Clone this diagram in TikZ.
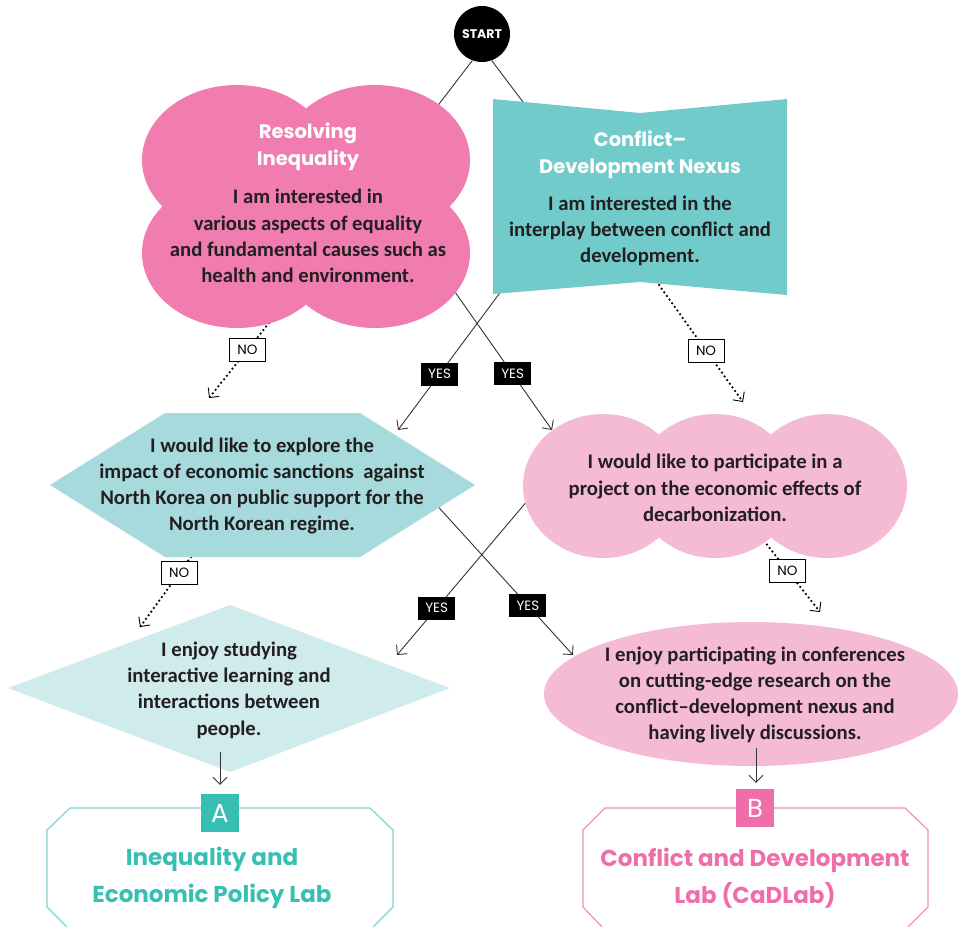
\documentclass[tikz,border=0pt]{standalone}
\usepackage{fontspec}
\setmainfont{Carlito}
\newfontfamily\headfont{Poppins}
\usetikzlibrary{arrows.meta}
\definecolor{pinkA}{HTML}{F17CB0}
\definecolor{tealB}{HTML}{72CBCB}
\definecolor{hexc}{HTML}{A6DADC}
\definecolor{pinkL}{HTML}{F5BBD5}
\definecolor{diac}{HTML}{D0EBEC}
\definecolor{tealA}{HTML}{38BFB4}
\definecolor{tealO}{HTML}{7DD3D5}
\definecolor{pinkB}{HTML}{EF6EA9}
\definecolor{pinkO}{HTML}{F38EBF}
\definecolor{txt}{HTML}{231F20}
\definecolor{linec}{HTML}{333333}
\begin{document}
\begin{tikzpicture}[x=1pt,y=-1pt,
  conn/.style={draw=linec, line width=0.9pt},
  arr/.style={conn, -{Straight Barb[length=7pt,width=14pt,line width=0.9pt]}},
  dotarr/.style={draw=black, line width=2.5pt, dash pattern=on 0pt off 4.5pt, line cap=round,
     -{Straight Barb[length=7pt,width=14pt,line width=0.9pt,line cap=butt]}},
  yesbox/.style={fill=black, text=white, font=\headfont\fontsize{13.5}{14}\selectfont,
     minimum width=37pt, minimum height=23pt, inner sep=0pt},
  nobox/.style={fill=white, draw=black, line width=1pt, text=black, solid,
     font=\headfont\fontsize{13.5}{14}\selectfont, minimum width=36pt, minimum height=23pt, inner sep=0pt},
  body/.style={align=center, text=txt, font=\bfseries\fontsize{20.7}{26.3}\selectfont, inner sep=0pt},
  title/.style={align=center, text=white, font=\headfont\bfseries\fontsize{19.5}{27}\selectfont, inner sep=0pt},
  lab/.style={align=center, font=\headfont\bfseries\fontsize{23}{37}\selectfont, inner sep=0pt},
  sq/.style={minimum size=38pt, inner sep=0pt, text=white, font=\headfont\fontsize{26}{26}\selectfont}
]
\useasboundingbox (0,0) rectangle (960,926);
\clip (0,0) rectangle (960,926);

% START
\node[circle, fill=black, minimum size=56pt, inner sep=0pt, text=white,
      font=\headfont\bfseries\fontsize{12.5}{13}\selectfont] (start) at (482,34) {START};

% named connector ends
\coordinate (c1t) at (436,108);
\coordinate (bnt) at (526,106);
\coordinate (c1b) at (455,292);
\coordinate (bnb) at (502,290);
\coordinate (hexin) at (398,430);
\coordinate (c2in) at (552,430);
\coordinate (hexb) at (432,500);
\coordinate (c2b) at (528,500);
\coordinate (diain) at (397,655);
\coordinate (ellin) at (573,655);
\coordinate (c1n) at (269,323);
\coordinate (hexn) at (209,398);
\coordinate (bnn) at (659,285);
\coordinate (c2n) at (743,402);
\coordinate (hexs) at (191,557);
\coordinate (dian) at (140,627);
\coordinate (c2s) at (764,541);
\coordinate (elln) at (820,612);

% connectors behind shapes
\draw[conn] (start.250) -- (c1t);
\draw[conn] (start.290) -- (bnt);
\draw[arr] (bnb) -- node[yesbox, pos=0.6] {YES} (hexin);
\draw[arr] (c1b) -- node[yesbox, pos=0.594] {YES} (c2in);
\draw[arr] (c2b) -- node[yesbox, pos=0.697] {YES} (diain);
\draw[arr] (hexb) -- node[yesbox, pos=0.68] {YES} (ellin);
\draw[dotarr] (c1n) -- node[nobox, pos=0.36] {NO} (hexn);
\draw[dotarr] (bnn) -- node[nobox, pos=0.56] {NO} (c2n);
\draw[dotarr] (hexs) -- node[nobox, pos=0.23] {NO} (dian);
\draw[dotarr] (c2s) -- node[nobox, pos=0.42] {NO} (elln);

% shapes
\fill[pinkA] (237,160) rectangle (375,253)
  (237,160) ellipse[x radius=95pt, y radius=75pt]
  (375,160) ellipse[x radius=95pt, y radius=75pt]
  (237,253) ellipse[x radius=95pt, y radius=75pt]
  (375,253) ellipse[x radius=95pt, y radius=75pt];
\fill[tealB] (493,99) -- (640,113) -- (787,99) -- (787,295) -- (640,282) -- (493,294) -- cycle;
\fill[hexc] (165,413) -- (360,413) -- (475,485) -- (360,557) -- (165,557) -- (50,485) -- cycle;
\fill[pinkL] (603,486) ellipse[x radius=80pt, y radius=72pt]
  (715,486) ellipse[x radius=80pt, y radius=72pt]
  (827,486) ellipse[x radius=80pt, y radius=72pt];
\fill[diac] (230,605) -- (450,688) -- (230,772) -- (8,688) -- cycle;
\fill[pinkL] (751,694) ellipse[x radius=207pt, y radius=72pt];

% texts
\node[title] (t1) at (308,147) {Resolving\\Inequality};
\node[body] (b1) at (308,236) {I am interested in\\various aspects of equality\\and fundamental causes such as\\health and environment.};
\node[title] (t2) at (640,155) {Conflict–\\Development Nexus};
\node[body] (b2) at (640,231) {I am interested in the\\interplay between conflict and\\development.};
\node[body] (b3) at (262,486) {I would like to explore the\\impact of economic sanctions\ \ against\\North Korea on public support for the\\North Korean regime.};
\node[body] (b4) at (715,488) {I would like to participate in a\\project on the economic effects of\\decarbonization.};
\node[body] (b5) at (229,690) {I enjoy studying\\interactive learning and\\interactions between\\people.};
\node[body] (b6) at (755,695) {I enjoy participating in conferences\\on cutting-edge research on the\\conflict–development nexus and\\having lively discussions.};

% result boxes
\draw[tealO, line width=1.2pt] (70,808) -- (370,808) -- (393,830) -- (393,907) -- (370,930) -- (70,930) -- (47,907) -- (47,830) -- cycle;
\draw[pinkO, line width=1.2pt] (605,808) -- (905,808) -- (928,830) -- (928,907) -- (905,930) -- (605,930) -- (583,907) -- (583,830) -- cycle;
\node[sq, fill=tealA] (A) at (220,813) {A};
\node[sq, fill=pinkB] (B) at (755,808) {B};
\node[lab, text=tealA] (la) at (212,878) {Inequality and\\Economic Policy Lab};
\node[lab, text=pinkB] (lb) at (755,878) {Conflict and Development\\Lab (CaDLab)};

% arrows on top
\coordinate (diaout) at (220,752);
\coordinate (ellout) at (756,748);
\draw[arr, shorten >=9pt] (diaout) -- (diaout |- A.north);
\draw[arr, shorten >=6pt] (ellout) -- (ellout |- B.north);
\end{tikzpicture}
\end{document}
